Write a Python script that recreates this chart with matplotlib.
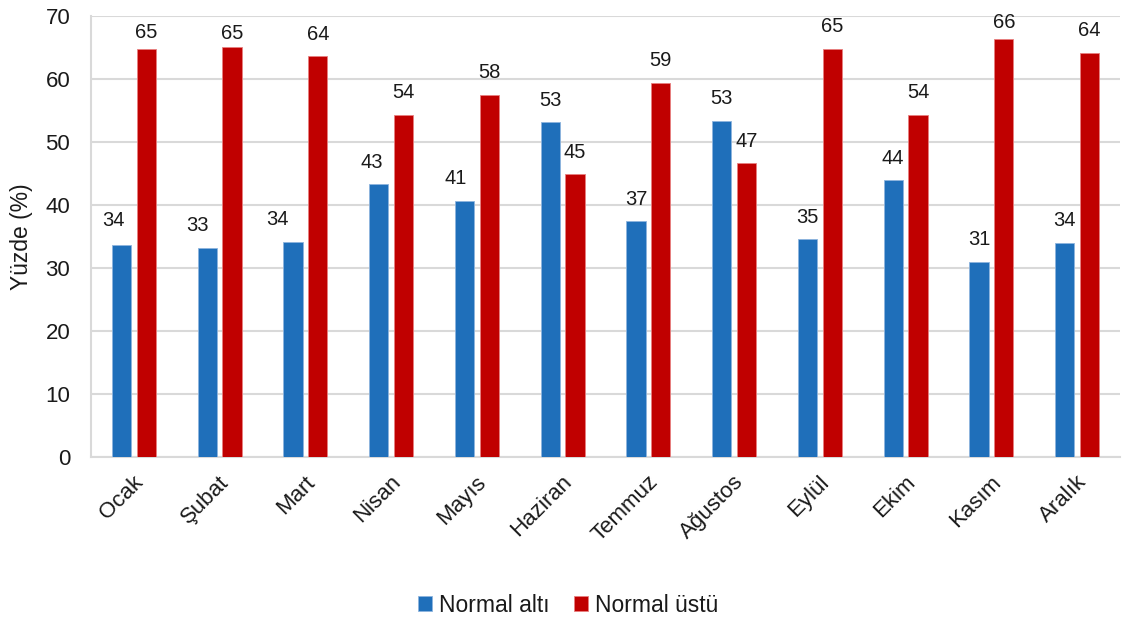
import matplotlib
matplotlib.use("Agg")
import matplotlib.pyplot as plt
import matplotlib.transforms as mtransforms
import numpy as np

plt.rcParams['font.family'] = ['Liberation Sans', 'DejaVu Sans']

months = ["Ocak", "Şubat", "Mart", "Nisan", "Mayıs", "Haziran",
          "Temmuz", "Ağustos", "Eylül", "Ekim", "Kasım", "Aralık"]
below_normal = [33.7, 33.2, 34.2, 43.3, 40.7, 53.1, 37.4, 53.4, 34.6, 43.9, 31.0, 34.0]
above_normal = [64.7, 65.1, 63.6, 54.3, 57.5, 44.9, 59.4, 46.6, 64.8, 54.3, 66.3, 64.2]
series_names = ["Normal altı", "Normal üstü"]

# per-label nudges (points) for the value labels
below_label_dx = [-6, -7, -11, -5, -6, 0, 0, 0, 0, 0, 0, 0]
below_label_dy = [10.5, 9, 9, 9, 9, 9, 9, 9, 9, 9, 9, 9]
above_label_dy = [5, 3, 9, 9, 9, 9, 9, 9, 9, 9, 5, 9]

blue = "#1F6FBA"
red = "#C00000"
grid_c = "#D9D9D9"
text_c = "#1A1A1A"

fig = plt.figure(figsize=(11.26, 6.18), dpi=100)
ax = fig.add_axes([91 / 1126, 1 - 457 / 618, (1120 - 91) / 1126, (457 - 16) / 618])

x = np.arange(len(months))
w = 0.225
off = 0.145
b1 = ax.bar(x - off, below_normal, w, color=blue, edgecolor="#8DB4DE", linewidth=0.6,
            label=series_names[0], zorder=3)
b2 = ax.bar(x + off, above_normal, w, color=red, edgecolor="#E88080", linewidth=0.6,
            label=series_names[1], zorder=3)

for i, v in enumerate(below_normal):
    ax.annotate(f"{v:.0f}", (x[i] - off, v), xytext=(below_label_dx[i], below_label_dy[i]),
                textcoords="offset points", ha="center", va="bottom", fontsize=14.5,
                color=text_c)
for i, v in enumerate(above_normal):
    ax.annotate(f"{v:.0f}", (x[i] + off, v), xytext=(0, above_label_dy[i]),
                textcoords="offset points", ha="center", va="bottom", fontsize=14.5,
                color=text_c)

ax.set_xlim(-0.5, len(months) - 0.5)
ax.set_ylim(0, 70)
ax.set_yticks(np.arange(0, 71, 10))
ax.yaxis.grid(True, color=grid_c, linewidth=1.5, zorder=0)
ax.set_axisbelow(True)
ax.tick_params(axis="y", length=0, pad=15, labelsize=16, labelcolor=text_c)
ax.tick_params(axis="x", length=0, pad=4, labelsize=16, labelcolor=text_c)

ax.set_xticks(x)
ax.set_xticklabels(months, rotation=45, ha="right", rotation_mode="anchor")
shift = mtransforms.ScaledTranslation(-1 / 100, -9 / 100, fig.dpi_scale_trans)
for lbl in ax.get_xticklabels():
    lbl.set_transform(lbl.get_transform() + shift)

for s in ["top", "right"]:
    ax.spines[s].set_visible(False)
for s in ["left", "bottom"]:
    ax.spines[s].set_color(grid_c)
    ax.spines[s].set_linewidth(1.5)

ax.set_ylabel("Yüzde (%)", fontsize=16.5, color=text_c)
ax.yaxis.set_label_coords(-58 / 1029, 0.5)

fig.legend(handles=[b1, b2], labels=series_names, loc="center",
           bbox_to_anchor=(568 / 1126, 1 - 605 / 618), ncol=2, frameon=False,
           fontsize=16.5, handlelength=0.6, handleheight=0.6, handletextpad=0.3,
           columnspacing=1.1, labelcolor=text_c)

fig.savefig("out.png", dpi=100)
